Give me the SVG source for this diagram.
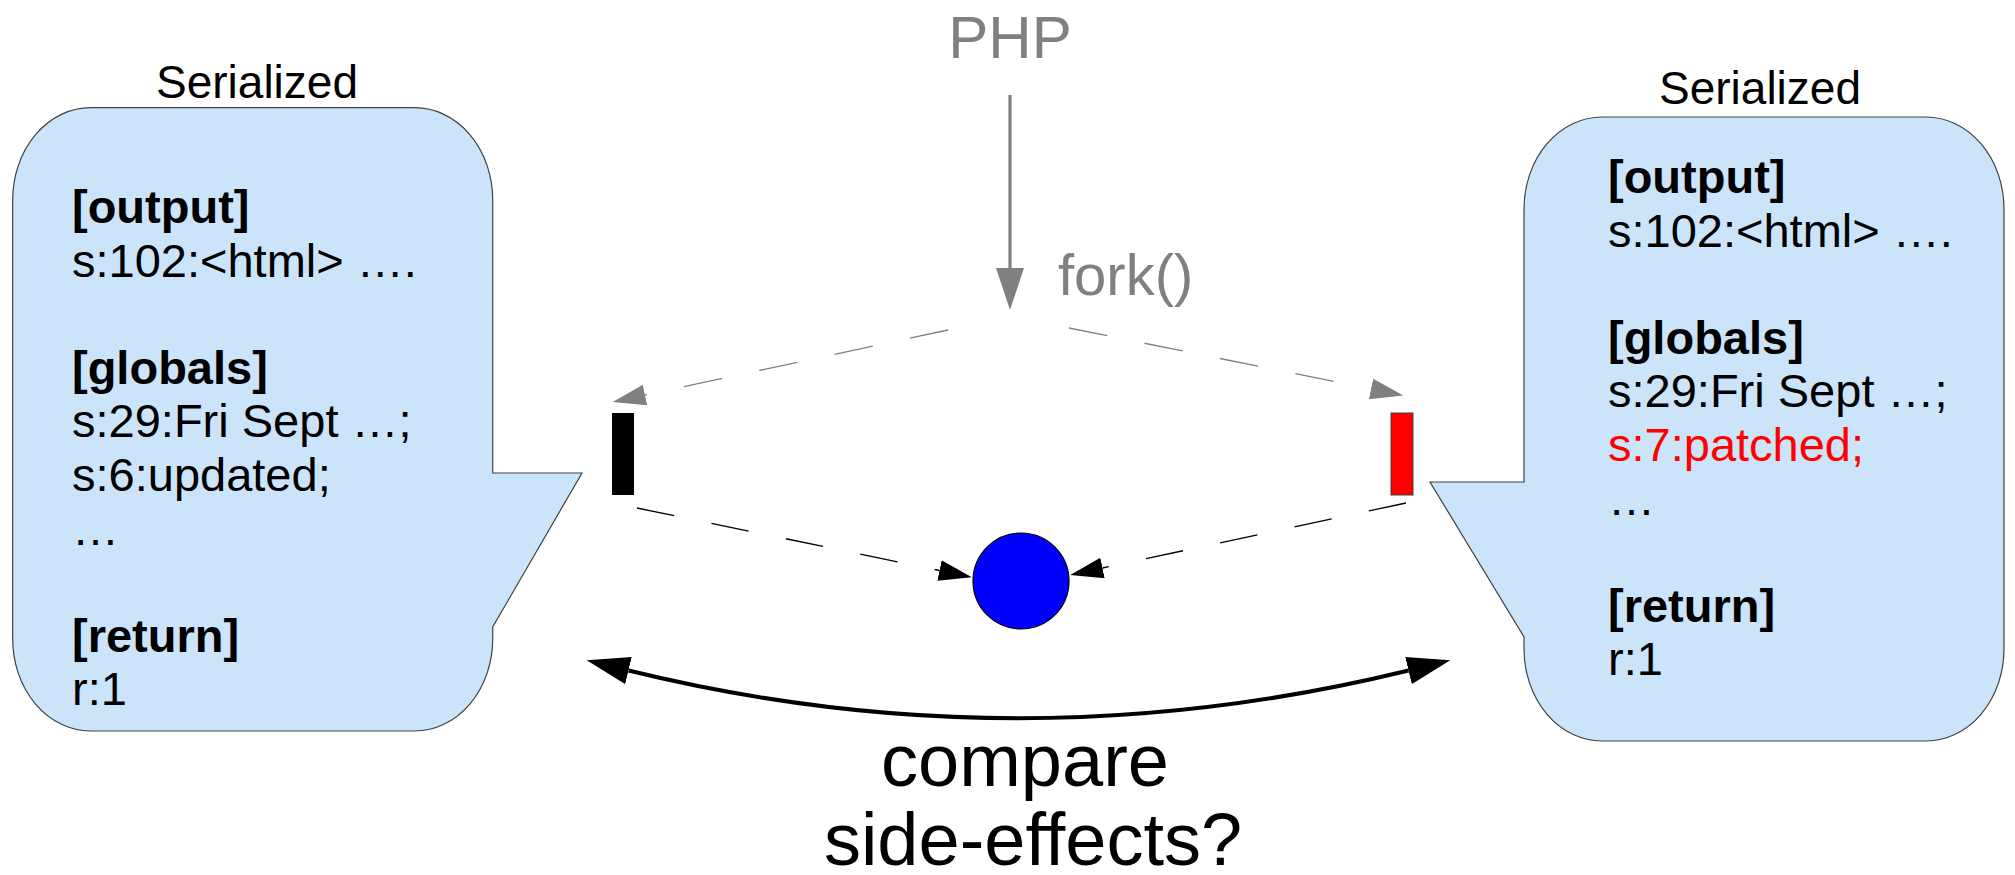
<svg xmlns="http://www.w3.org/2000/svg" width="2015" height="875" viewBox="0 0 2015 875">
  <style>
    text { font-family: "Liberation Sans", Arial, sans-serif; }
    .bubble { fill: #cbe4f9; stroke: #404040; stroke-width: 1.2; }
    .body { font-size: 47px; fill: #000; }
    .head { font-weight: bold; }
    .caption { font-size: 46px; fill: #000; text-anchor: middle; }
    .gray { fill: #808080; }
    .dash-gray { fill: none; stroke: #808080; stroke-width: 1.3; stroke-dasharray: 39 38; }
    .dash-black { fill: none; stroke: #000; stroke-width: 1.3; stroke-dasharray: 38 38; }
  </style>
  <defs>
    <marker id="head-php" markerUnits="userSpaceOnUse" viewBox="0 0 42 28" markerWidth="42" markerHeight="28" refX="0" refY="14" orient="auto">
      <path d="M0,0 L42,14 L0,28 Z" fill="#808080"/>
    </marker>
    <marker id="head-gray" markerUnits="userSpaceOnUse" viewBox="0 0 33 21" markerWidth="33" markerHeight="21" refX="0" refY="10.5" orient="auto">
      <path d="M0,0 L33,10.5 L0,21 Z" fill="#808080"/>
    </marker>
    <marker id="head-black" markerUnits="userSpaceOnUse" viewBox="0 0 33 21" markerWidth="33" markerHeight="21" refX="0" refY="10.5" orient="auto">
      <path d="M0,0 L33,10.5 L0,21 Z" fill="#000"/>
    </marker>
    <marker id="head-compare" markerUnits="userSpaceOnUse" viewBox="0 0 43 28" markerWidth="43" markerHeight="28" refX="0" refY="14" orient="auto-start-reverse">
      <path d="M0,0 L43,14 L0,28 Z" fill="#000"/>
    </marker>
  </defs>

  <!-- parent process serialized state -->
  <g id="bubble-left">
    <path class="bubble" d="M90.7,107.7 H414.7 A78,92 0 0 1 492.7,199.7 V473 H582 L492.7,627 V639 A78,92 0 0 1 414.7,731 H90.7 A78,92 0 0 1 12.7,639 V199.7 A78,92 0 0 1 90.7,107.7 Z"/>
    <text class="caption" x="257" y="98">Serialized</text>
    <text class="body" x="72">
      <tspan class="head" x="72" y="223">[output]</tspan>
      <tspan x="72" y="276.6">s:102:&lt;html&gt; ….</tspan>
      <tspan class="head" x="72" y="383.8">[globals]</tspan>
      <tspan x="72" y="437.4">s:29:Fri Sept …;</tspan>
      <tspan x="72" y="491">s:6:updated;</tspan>
      <tspan x="72" y="544.6">…</tspan>
      <tspan class="head" x="72" y="651.8">[return]</tspan>
      <tspan x="72" y="705.4">r:1</tspan>
    </text>
  </g>

  <!-- child process serialized state -->
  <g id="bubble-right">
    <path class="bubble" d="M1602,117 H1926 A78,92 0 0 1 2004,209 V649 A78,92 0 0 1 1926,741 H1602 A78,92 0 0 1 1524,649 V637 L1430,482 H1524 V209 A78,92 0 0 1 1602,117 Z"/>
    <text class="caption" x="1760" y="104">Serialized</text>
    <text class="body" x="1608">
      <tspan class="head" x="1608" y="193">[output]</tspan>
      <tspan x="1608" y="246.6">s:102:&lt;html&gt; ….</tspan>
      <tspan class="head" x="1608" y="353.8">[globals]</tspan>
      <tspan x="1608" y="407.4">s:29:Fri Sept …;</tspan>
      <tspan x="1608" y="461" fill="#ff0000">s:7:patched;</tspan>
      <tspan x="1608" y="514.6">…</tspan>
      <tspan class="head" x="1608" y="621.8">[return]</tspan>
      <tspan x="1608" y="675.4">r:1</tspan>
    </text>
  </g>

  <g id="php">
    <text class="gray" x="1010" y="58" font-size="60" text-anchor="middle">PHP</text>
  </g>

  <g id="fork-label">
    <text class="gray" x="1058" y="295" font-size="58">fork()</text>
  </g>

  <g id="process-parent">
    <rect x="612" y="413" width="22" height="82" fill="#000"/>
  </g>

  <g id="process-child">
    <rect x="1391" y="413" width="22" height="82" fill="#ff0000" stroke="#404040" stroke-width="1"/>
  </g>

  <g id="join">
    <circle cx="1021" cy="581" r="48" fill="#0000ff" stroke="#000" stroke-width="1.2"/>
  </g>

  <g id="compare-label">
    <text x="1025" y="786" font-size="74" text-anchor="middle">compare</text>
    <text x="1033" y="865" font-size="74" text-anchor="middle">side-effects?</text>
  </g>

  <g id="connectors">
    <line x1="1010" y1="95" x2="1010" y2="268" stroke="#808080" stroke-width="3.2" marker-end="url(#head-php)"/>
    <path class="dash-gray" d="M948,330 L645,395" marker-end="url(#head-gray)"/>
    <path class="dash-gray" d="M1069,328 L1371,389" marker-end="url(#head-gray)"/>
    <path class="dash-black" d="M637,508 L939.5,570.5" marker-end="url(#head-black)"/>
    <path class="dash-black" d="M1406,503 L1102.5,568" marker-end="url(#head-black)"/>
    <path d="M628.5,670.5 Q1018,766 1408.5,670.5" fill="none" stroke="#000" stroke-width="4" marker-start="url(#head-compare)" marker-end="url(#head-compare)"/>
  </g>
</svg>
